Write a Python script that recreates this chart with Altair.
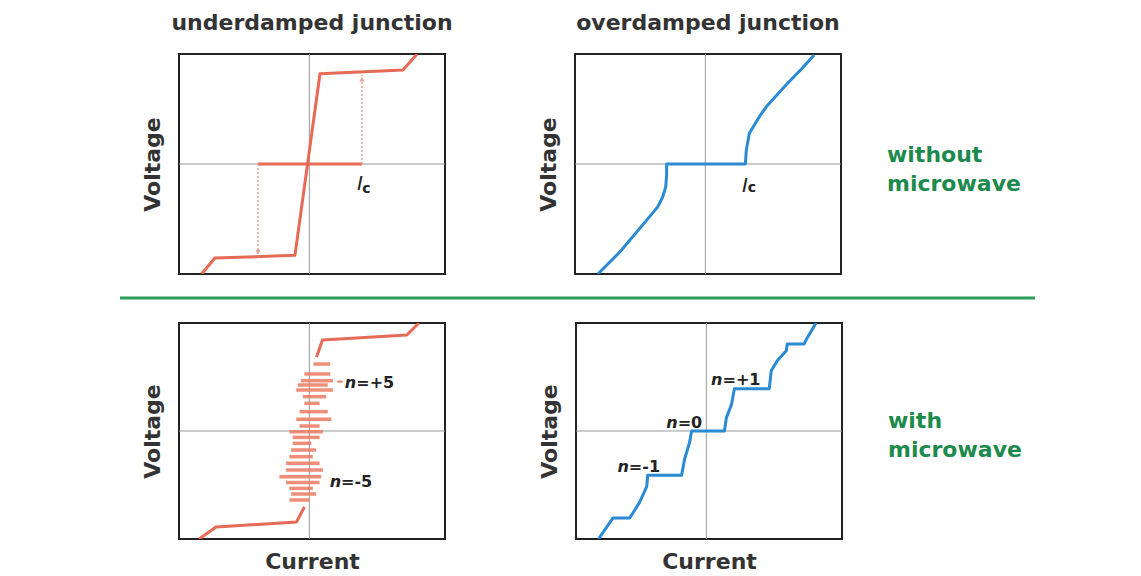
import altair as alt
import pandas as pd

# ---------------- data ----------------
# top-left: underdamped, no microwave (hysteretic IV)
tl_x = [-0.83, -0.73, -0.128, 0.06, 0.684, 0.79]
tl_y = [-1.0, -0.855, -0.83, 0.82, 0.855, 1.0]
tl_zero_x1 = [-0.406]
tl_zero_x2 = [0.376]
tl_jump_x = [-0.406, 0.376]
tl_jump_y1 = [0.0, 0.0]
tl_jump_y2 = [-0.84, 0.81]
tl_arrow_y = [-0.80, 0.77]
tl_arrow_shape = ["triangle-down", "triangle-up"]

# top-right: overdamped, no microwave
tr_x = [-0.828, -0.663, -0.461, -0.378, -0.341, -0.318, -0.311, -0.311,
        0.281, 0.288, 0.311, 0.386, 0.438, 0.588, 0.708, 0.798]
tr_y = [-1.0, -0.80, -0.51, -0.39, -0.30, -0.21, -0.10, 0.0,
        0.0, 0.127, 0.28, 0.43, 0.52, 0.72, 0.87, 0.99]

# bottom-left: underdamped with microwave
bl_low_x = [-0.849, -0.721, -0.117, -0.057]
bl_low_y = [-1.0, -0.889, -0.843, -0.704]
bl_up_x = [0.034, 0.079, 0.713, 0.804]
bl_up_y = [0.685, 0.843, 0.889, 1.0]
step_y = [0.620, 0.528, 0.466, 0.426, 0.380, 0.318, 0.256, 0.179, 0.108, 0.046, -0.006,
          -0.059, -0.114, -0.176, -0.238, -0.299, -0.361, -0.423, -0.478, -0.531, -0.583, -0.639]
step_x1 = [0.011, -0.057, -0.082, -0.107, -0.119, -0.069, -0.057, -0.094, -0.119, -0.094, -0.170,
           -0.145, -0.145, -0.157, -0.170, -0.195, -0.195, -0.245, -0.195, -0.170, -0.157, -0.170]
step_x2 = [0.137, 0.137, 0.157, 0.119, 0.157, 0.107, 0.057, 0.119, 0.145, 0.057, 0.082,
           0.057, -0.006, 0.031, 0.006, 0.057, 0.082, 0.069, 0.057, 0.006, 0.031, -0.019]
leader_x1 = [0.19]
leader_x2 = [0.23]
leader_y = [0.457]

# bottom-right: overdamped with microwave (Shapiro steps)
br_x = [-0.831, -0.723, -0.596, -0.521, -0.468, -0.461, -0.206, -0.184, -0.146, -0.131,
        0.116, 0.131, 0.169, 0.191, 0.453, 0.468, 0.513, 0.581, 0.588, 0.715, 0.738, 0.805]
br_y = [-1.0, -0.806, -0.806, -0.659, -0.512, -0.410, -0.410, -0.263, -0.106, 0.0,
        0.0, 0.124, 0.244, 0.392, 0.392, 0.558, 0.650, 0.742, 0.806, 0.806, 0.862, 1.0]

# step labels
bl_lab_x = [0.325, 0.211]
bl_lab_y = [0.398, -0.519]
bl_lab_t = ["=+5", "=-5"]
br_lab_x = [0.094, -0.243, -0.610]
br_lab_y = [0.429, 0.032, -0.382]
br_lab_t = ["=+1", "=0", "=-1"]

# Ic labels
tl_ic = dict(ix=0.36, iy=-0.24, cx=0.41, cy=-0.262)
tr_ic = dict(ix=0.277, iy=-0.25, cx=0.33, cy=-0.257)

titles = ["underdamped junction", "overdamped junction"]
row_labels_top = ["without", "microwave"]
row_labels_top_y = [0.02, -0.244]
row_labels_bot = ["with", "microwave"]
row_labels_bot_y = [0.032, -0.244]

cross_x = -0.02

# ---------------- styles ----------------
RED = "#E66A55"
RED_BAR = "#EC7A62"
PINK = "#E6A29A"
BLUE = "#2A8AD4"
GREEN = "#1C8A4C"
GREEN_LINE = "#2E9E5B"
TXT = "#333333"
FONT = "DejaVu Sans"
W = 266
H_TOP = 220
H_BOT = 216

DOM = alt.Scale(domain=[-1, 1], nice=False, zero=False)


def yaxis():
    return alt.Axis(title="Voltage", labels=False, ticks=False, domain=False, grid=False,
                    titlePadding=15, titleFont=FONT, titleFontSize=22,
                    titleFontWeight="bold", titleColor=TXT)


def xaxis(bottom):
    if not bottom:
        return None
    return alt.Axis(title="Current", labels=False, ticks=False, domain=False, grid=False,
                    titlePadding=12, titleFont=FONT, titleFontSize=22,
                    titleFontWeight="bold", titleColor=TXT)


def enc_x(field, bottom):
    ax = xaxis(bottom)
    if ax is None:
        return alt.X(field, type="quantitative", scale=DOM, axis=None)
    return alt.X(field, type="quantitative", scale=DOM, axis=ax)


def enc_y(field):
    return alt.Y(field, type="quantitative", scale=DOM, axis=yaxis())


def base_layers(bottom, left):
    layers = []
    anchor = alt.Chart(pd.DataFrame({"x": [0.0], "y": [0.0]})).mark_point(opacity=0).encode(
        x=enc_x("x", bottom), y=enc_y("y"))
    layers.append(anchor)
    vr = alt.Chart(pd.DataFrame({"x": [cross_x]})).mark_rule(color="#999", strokeWidth=1).encode(
        x=enc_x("x", bottom))
    hr = alt.Chart(pd.DataFrame({"y": [0.0]})).mark_rule(color="#999", strokeWidth=1).encode(
        y=enc_y("y"))
    layers += [vr, hr]
    if left:
        spacer = alt.Chart(pd.DataFrame({"a": [0]})).mark_rule(opacity=0).encode(
            x=alt.value(-59), x2=alt.value(-57), y=alt.value(10))
        layers.append(spacer)
    return layers


def line(xs, ys, color, bottom, seg=None):
    df = pd.DataFrame({"x": xs, "y": ys, "i": list(range(len(xs)))})
    if seg is not None:
        df["s"] = seg
        return alt.Chart(df).mark_line(color=color, strokeWidth=3, clip=True,
                                       strokeJoin="round").encode(
            x=enc_x("x", bottom), y=enc_y("y"), detail="s:N", order="i:Q")
    return alt.Chart(df).mark_line(color=color, strokeWidth=3, clip=True,
                                   strokeJoin="round").encode(
        x=enc_x("x", bottom), y=enc_y("y"), order="i:Q")


def ic_label(d, bottom):
    df_i = pd.DataFrame({"x": [d["ix"]], "y": [d["iy"]], "t": ["I"]})
    df_c = pd.DataFrame({"x": [d["cx"]], "y": [d["cy"]], "t": ["c"]})
    ti = alt.Chart(df_i).mark_text(font=FONT, fontSize=20, fontStyle="italic", color="#222",
                                   align="center", baseline="alphabetic").encode(
        x=enc_x("x", bottom), y=enc_y("y"), text="t:N")
    tc = alt.Chart(df_c).mark_text(font=FONT, fontSize=14, fontWeight="bold", color="#222",
                                   align="center", baseline="alphabetic").encode(
        x=enc_x("x", bottom), y=enc_y("y"), text="t:N")
    return [ti, tc]


def n_labels(xs, ys, ts, bottom):
    df = pd.DataFrame({"x": xs, "y": ys, "t": ts, "n": ["n"] * len(xs)})
    tn = alt.Chart(df).mark_text(font=FONT, fontSize=16, fontWeight="bold", fontStyle="italic",
                                 color="#222", align="right", baseline="alphabetic", dx=1).encode(
        x=enc_x("x", bottom), y=enc_y("y"), text="n:N")
    te = alt.Chart(df).mark_text(font=FONT, fontSize=16, fontWeight="bold", color="#222",
                                 align="left", baseline="alphabetic", dx=1).encode(
        x=enc_x("x", bottom), y=enc_y("y"), text="t:N")
    return [tn, te]


def panel_props(ch, h, title=None):
    props = dict(width=W, height=h, view=alt.ViewBackground(stroke="#222", strokeWidth=2))
    if title is not None:
        props["title"] = alt.TitleParams(text=title, font=FONT, fontSize=22, fontWeight="bold",
                                         color=TXT, offset=19, anchor="middle")
    return ch.properties(**props)


# ---- top-left
L = base_layers(False, True)
L.append(line(tl_x, tl_y, RED, False))
L.append(alt.Chart(pd.DataFrame({"x1": tl_zero_x1, "x2": tl_zero_x2, "y": [0.0]})).mark_rule(
    color=RED, strokeWidth=3).encode(x=enc_x("x1", False), x2="x2:Q", y=enc_y("y")))
jd = pd.DataFrame({"x": tl_jump_x, "y1": tl_jump_y1, "y2": tl_jump_y2,
                   "ya": tl_arrow_y, "s": tl_arrow_shape})
L.append(alt.Chart(jd).mark_rule(color=PINK, strokeWidth=1.5, strokeDash=[2, 2]).encode(
    x=enc_x("x", False), y=enc_y("y1"), y2="y2:Q"))
L.append(alt.Chart(jd).mark_point(filled=True, size=28, color=PINK, opacity=1).encode(
    x=enc_x("x", False), y=enc_y("ya"), shape=alt.Shape("s:N", scale=None)))
L += ic_label(tl_ic, False)
TL = panel_props(alt.layer(*L), H_TOP, titles[0])

# ---- top-right
L = base_layers(False, False)
L.append(line(tr_x, tr_y, BLUE, False))
L += ic_label(tr_ic, False)
TR = panel_props(alt.layer(*L), H_TOP, titles[1])

# ---- bottom-left
L = base_layers(True, True)
bars = pd.DataFrame({"y": step_y, "x1": step_x1, "x2": step_x2})
L.append(alt.Chart(bars).mark_rule(color=RED_BAR, strokeWidth=3.5, opacity=0.85).encode(
    x=enc_x("x1", True), x2="x2:Q", y=enc_y("y")))
L.append(alt.Chart(pd.DataFrame({"x1": leader_x1, "x2": leader_x2, "y": leader_y})).mark_rule(
    color=RED_BAR, strokeWidth=2).encode(x=enc_x("x1", True), x2="x2:Q", y=enc_y("y")))
L.append(line(bl_low_x + bl_up_x, bl_low_y + bl_up_y, RED, True,
              seg=["a"] * len(bl_low_x) + ["b"] * len(bl_up_x)))
L += n_labels(bl_lab_x, bl_lab_y, bl_lab_t, True)
BL = panel_props(alt.layer(*L), H_BOT)

# ---- bottom-right
L = base_layers(True, False)
L.append(line(br_x, br_y, BLUE, True))
L += n_labels(br_lab_x, br_lab_y, br_lab_t, True)
BR = panel_props(alt.layer(*L), H_BOT)


def side_labels(texts, ys, h):
    df = pd.DataFrame({"t": texts, "y": ys})
    return alt.Chart(df).mark_text(font=FONT, fontSize=22, fontWeight="bold", color=GREEN,
                                   align="left", baseline="alphabetic").encode(
        x=alt.value(0), y=alt.Y("y:Q", scale=DOM, axis=None), text="t:N").properties(
        width=150, height=h, view=alt.ViewBackground(stroke="transparent"))


sep = alt.Chart(pd.DataFrame({"a": [0]})).mark_rule(color=GREEN_LINE, strokeWidth=3).encode(
    x=alt.value(-59), x2=alt.value(856), y=alt.value(2)).properties(
    width=856, height=5, view=alt.ViewBackground(stroke="transparent"))

top_row = alt.hconcat(alt.hconcat(TL, TR, spacing=82),
                      side_labels(row_labels_top, row_labels_top_y, H_TOP), spacing=43)
bot_row = alt.hconcat(alt.hconcat(BL, BR, spacing=90),
                      side_labels(row_labels_bot, row_labels_bot_y, H_BOT), spacing=43)

chart = alt.vconcat(top_row, sep, bot_row, spacing=19).properties(
    padding={"left": 110, "top": 2, "right": 5, "bottom": 5},
    background="white",
)

chart.save("out.html", embed_options={"renderer": "svg", "actions": False})
